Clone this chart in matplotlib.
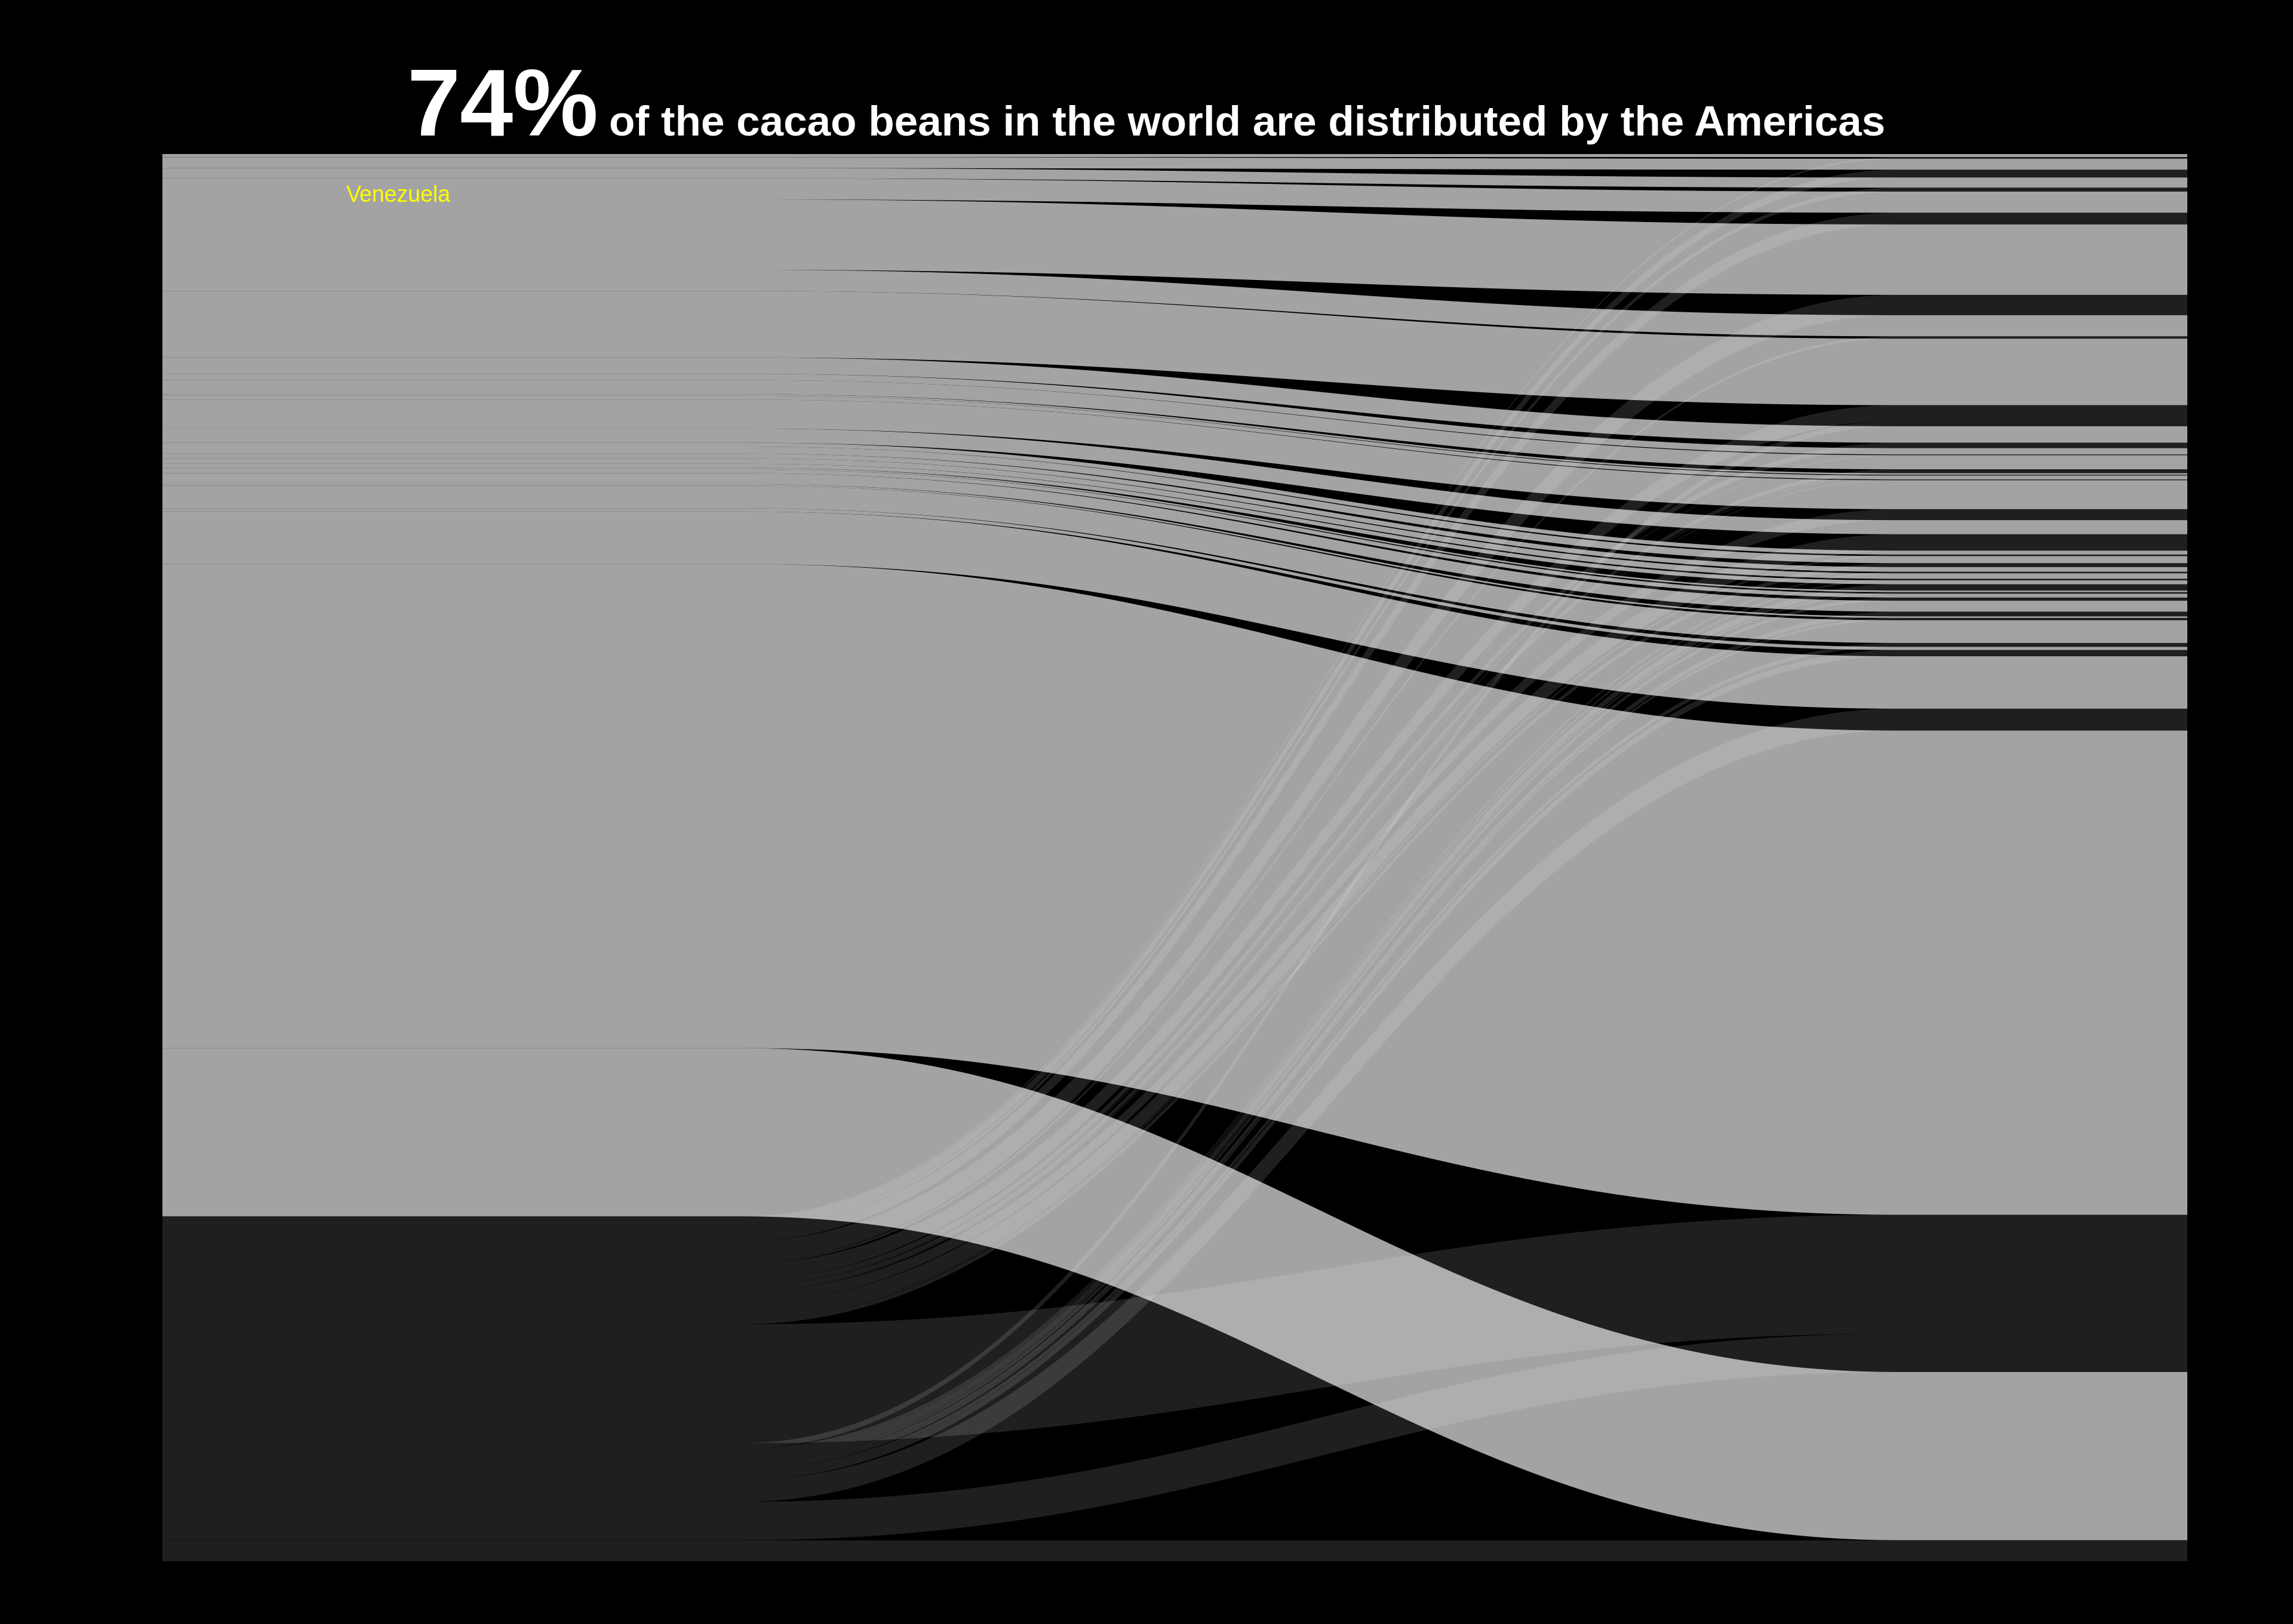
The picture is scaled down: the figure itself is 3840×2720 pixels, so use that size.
import numpy as np
import matplotlib
matplotlib.use("Agg")
import matplotlib.pyplot as plt

plt.rcParams['font.family'] = ['Liberation Sans', 'DejaVu Sans']

# ---------------- data ----------------
# Right axis strata (top to bottom); each holds an Americas part and Other part
right_strata = ["L%02d" % i for i in range(1, 30)]
americas_counts = [4, 14, 13, 27, 90, 27, 85, 21, 8, 18, 2, 5, 37, 18, 5, 9,
                   6, 7, 5, 2, 5, 14, 2, 29, 4, 67, 619, 0, 215]
# Non-Americas alluvia, in their stacking order on the left axis:
# target right stratum (index) and count
other_targets = [0, 1, 2, 3, 4, 5, 6, 7, 8, 9, 10, 11, 12, 13, 14, 15,
                 26,
                 6, 16, 17, 18, 19, 20, 21, 22, 23, 24, 25,
                 25, 27, 28, 28, 28]
other_counts = [2, 10, 5, 15, 26, 3, 20, 7, 1, 5, 1, 1, 14, 21, 2, 5,
                152,
                7, 2, 2, 8, 2, 4, 6, 3, 5, 8, 14,
                14, 49, 7, 5, 15]
left_groups = ["Americas", "Other"]
group_alpha = {"Americas": 0.645, "Other": 0.124}
highlight_label = "Venezuela"

# ---------------- build alluvia ----------------
alluvia = []
for s, v in enumerate(americas_counts):
    if v > 0:
        alluvia.append(dict(group="Americas", value=v, stratum=s))
for t, v in zip(other_targets, other_counts):
    alluvia.append(dict(group="Other", value=v, stratum=t))

total = sum(a["value"] for a in alluvia)

# left stacking: list order
y = 0.0
for a in alluvia:
    a["l0"], a["l1"] = y, y + a["value"]
    y += a["value"]

# right stacking: by stratum, Americas first then Other in left order
y = 0.0
for s in range(len(right_strata)):
    members = [a for a in alluvia if a["stratum"] == s]
    members.sort(key=lambda a: (0 if a["group"] == "Americas" else 1, a["l0"]))
    for a in members:
        a["r0"], a["r1"] = y, y + a["value"]
        y += a["value"]

# ---------------- figure ----------------
W, H, DPI = 3840, 2720, 300
fig = plt.figure(figsize=(W / DPI, H / DPI), dpi=DPI, facecolor="black")
ax = fig.add_axes([272 / W, 1 - 2615 / H, (3663 - 272) / W, (2615 - 258) / H])
ax.set_facecolor("black")

AX_L, AX_R, SW = 1.0, 2.0, 1 / 3
xa, xb = AX_L + SW / 2, AX_R - SW / 2
t = np.linspace(0, 1, 240)
k = 0.42
bx = xa + (xb - xa) * (3 * (1 - t) ** 2 * t * k + 3 * (1 - t) * t ** 2 * (1 - k) + t ** 3)
sm = 3 * t ** 2 - 2 * t ** 3

for a in alluvia:
    top = a["l0"] + (a["r0"] - a["l0"]) * sm
    bot = a["l1"] + (a["r1"] - a["l1"]) * sm
    xs = np.concatenate([[AX_L - SW / 2], bx, [AX_R + SW / 2, AX_R + SW / 2], bx[::-1], [AX_L - SW / 2]])
    ys = np.concatenate([[a["l0"]], top, [a["r0"], a["r1"]], bot[::-1], [a["l1"]]])
    ax.fill(xs, ys, color="white", alpha=group_alpha[a["group"]], lw=0)

ax.set_xlim(AX_L - SW / 2, AX_R)
ax.set_ylim(total, 0)
ax.axis("off")

ax.text(0.1165, 1 - (338 - 258) / 2357, highlight_label, transform=ax.transAxes,
        color="#FFFF00", fontsize=9, ha="center", va="baseline")

fig.text(681 / W, 1 - 227 / H, "74%", color="white", fontsize=38.5,
         fontweight="bold", ha="left", va="baseline")
fig.text(1020 / W, 1 - 227 / H,
         "of the cacao beans in the world are distributed by the Americas",
         color="white", fontsize=17.05, fontweight="bold", ha="left", va="baseline")

fig.savefig("out.png", dpi=DPI, facecolor="black")
